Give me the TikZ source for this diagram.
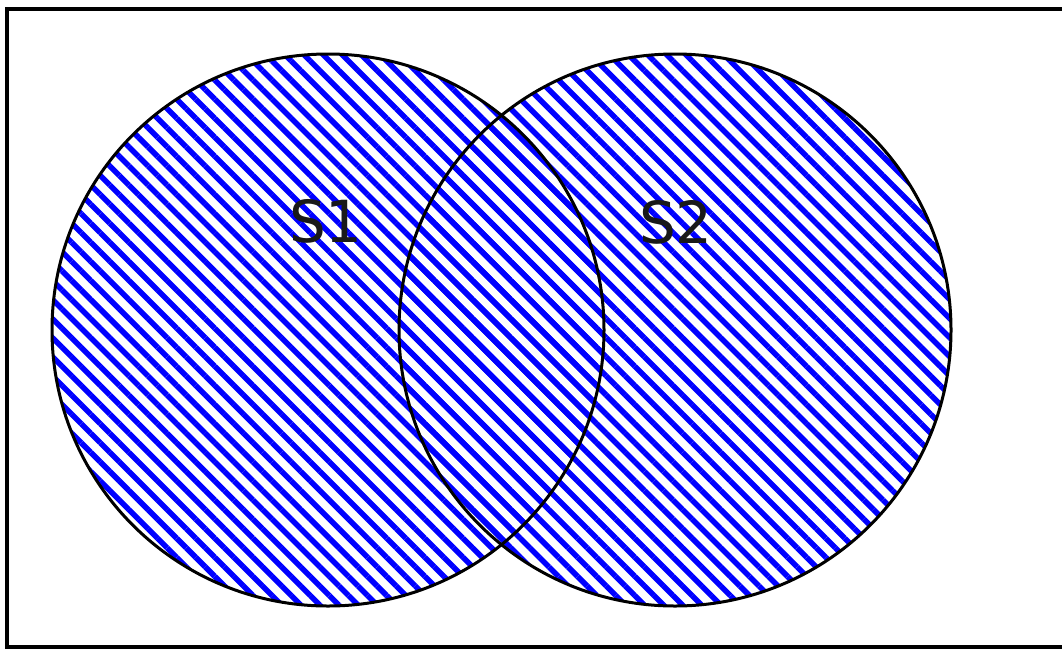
\documentclass[tikz,border=0pt]{standalone}
\usepackage{fontspec}
\setmainfont{DejaVu Sans}
\usepackage{tikz}
\usetikzlibrary{patterns.meta}

\tikzset{
  setfill/.style={circle, minimum size=552pt, inner sep=0pt,
    pattern={Lines[angle=-45, distance=13.5pt, line width=5.5pt]}, pattern color=blue},
  setline/.style={draw=black, line width=3pt},
  setlabel/.style={font=\fontsize{58}{60}\selectfont, text=black!90}
}

\begin{document}
\begin{tikzpicture}[x=1pt, y=-1pt]
    \useasboundingbox (0,0) rectangle (1062,648);
    % frame
    \draw[line width=4pt] (7,9) rectangle (1075,647);
    % the two sets
    \node[setfill] (s1) at (328,330) {};
    \node[setfill] (s2) at (675,330) {};
    \foreach \s in {s1,s2}
      \draw[setline] (\s.center) circle[radius=276];
    \node[setlabel] (l1) at (326,221) {S1};
    \node[setlabel] (l2) at (676,222) {S2};
  \end{tikzpicture}
\end{document}
